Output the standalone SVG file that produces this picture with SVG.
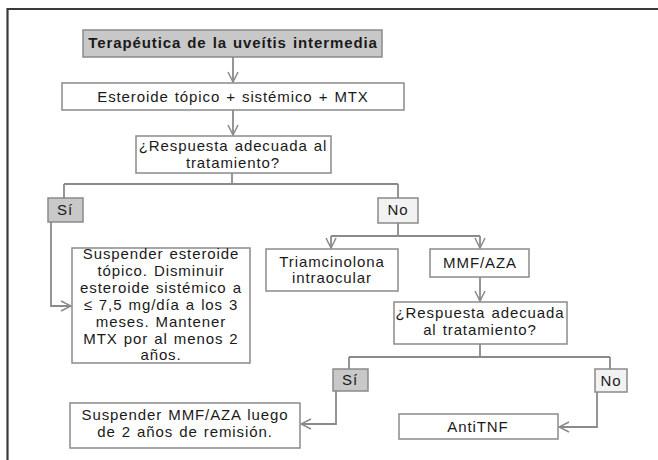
<svg xmlns="http://www.w3.org/2000/svg" width="658" height="460" viewBox="0 0 658 460">
<defs>
<marker id="ah" viewBox="0 0 12 12" refX="11" refY="6" markerWidth="12" markerHeight="12" markerUnits="userSpaceOnUse" orient="auto">
<path d="M1,1 L11,6 L1,11" fill="none" stroke="#8a8a8a" stroke-width="1.5"/>
</marker>
<style>
.bx{fill:#fff;stroke:#8a8a8a;stroke-width:1.5}
.dk{fill:#c8c8c8;stroke:#8a8a8a;stroke-width:1.5}
.lt{fill:#f2f2f2;stroke:#8a8a8a;stroke-width:1.5}
.t{font-family:"Liberation Sans",Arial,sans-serif;font-size:15px;fill:#1a1a1a;text-anchor:middle;letter-spacing:0.9px;word-spacing:1px}
.b{font-weight:bold}
.ln{fill:none;stroke:#8a8a8a;stroke-width:1.8}
</style>
</defs>
<rect x="0" y="0" width="658" height="460" fill="#fff"/>
<path d="M7.5,460 L7.5,9 L658,9" fill="none" stroke="#3a3a3a" stroke-width="2.2"/>
<g id="connectors">
<path class="ln" d="M233,57 L233,82" marker-end="url(#ah)"/>
<path class="ln" d="M233,110 L233,135" marker-end="url(#ah)"/>
<path class="ln" d="M232,173 L232,184 M64,184 L398,184 M64,184 L64,198 M398,184 L398,198"/>
<path class="ln" d="M51,222 L51,306 L71,306" marker-end="url(#ah)"/>
<path class="ln" d="M398,223 L398,236 M331,236 L480,236"/>
<path class="ln" d="M331,236 L331,248" marker-end="url(#ah)"/>
<path class="ln" d="M480,236 L480,248" marker-end="url(#ah)"/>
<path class="ln" d="M480,277 L480,301" marker-end="url(#ah)"/>
<path class="ln" d="M480,344 L480,357 M349,357 L610,357 M349,357 L349,369 M610,357 L610,369"/>
<path class="ln" d="M336,391 L336,424 L301,424" marker-end="url(#ah)"/>
<path class="ln" d="M597,392 L597,427 L559,427" marker-end="url(#ah)"/>
</g>
<g id="n-title"><rect class="dk" x="83" y="30" width="299" height="27"/><text class="t b" x="233" y="48">Terapéutica de la uveítis intermedia</text></g>
<g id="n-esteroide"><rect class="bx" x="62" y="83" width="342" height="27"/><text class="t" x="233" y="102">Esteroide tópico + sistémico + MTX</text></g>
<g id="n-resp1"><rect class="bx" x="136" y="136" width="195" height="37"/><text class="t" x="233" y="151">¿Respuesta adecuada al</text><text class="t" x="233" y="168">tratamiento?</text></g>
<g id="n-si1"><rect class="dk" x="48" y="198" width="35" height="24"/><text class="t" x="65" y="215">Sí</text></g>
<g id="n-no1"><rect class="lt" x="378" y="198" width="40" height="25"/><text class="t" x="398" y="215">No</text></g>
<g id="n-suspender1"><rect class="bx" x="72" y="248" width="178" height="115"/>
<text class="t" x="161" y="259">Suspender esteroide</text>
<text class="t" x="161" y="276">tópico. Disminuir</text>
<text class="t" x="161" y="293">esteroide sistémico a</text>
<text class="t" x="161" y="310">≤ 7,5 mg/día a los 3</text>
<text class="t" x="161" y="327">meses. Mantener</text>
<text class="t" x="161" y="344">MTX por al menos 2</text>
<text class="t" x="161" y="360">años.</text></g>
<g id="n-triam"><rect class="bx" x="266" y="249" width="132" height="42"/><text class="t" x="332" y="267">Triamcinolona</text><text class="t" x="332" y="283">intraocular</text></g>
<g id="n-mmf"><rect class="bx" x="430" y="249" width="99" height="28"/><text class="t" x="480" y="268">MMF/AZA</text></g>
<g id="n-resp2"><rect class="bx" x="394" y="302" width="173" height="42"/><text class="t" x="480" y="318">¿Respuesta adecuada</text><text class="t" x="480" y="335">al tratamiento?</text></g>
<g id="n-si2"><rect class="dk" x="333" y="369" width="35" height="22"/><text class="t" x="350" y="385">Sí</text></g>
<g id="n-no2"><rect class="lt" x="595" y="369" width="32" height="23"/><text class="t" x="611" y="386">No</text></g>
<g id="n-suspender2"><rect class="bx" x="70" y="403" width="230" height="45"/><text class="t" x="185" y="420">Suspender MMF/AZA luego</text><text class="t" x="185" y="437">de 2 años de remisión.</text></g>
<g id="n-antitnf"><rect class="bx" x="399" y="414" width="159" height="25"/><text class="t" x="478" y="432">AntiTNF</text></g>
</svg>
